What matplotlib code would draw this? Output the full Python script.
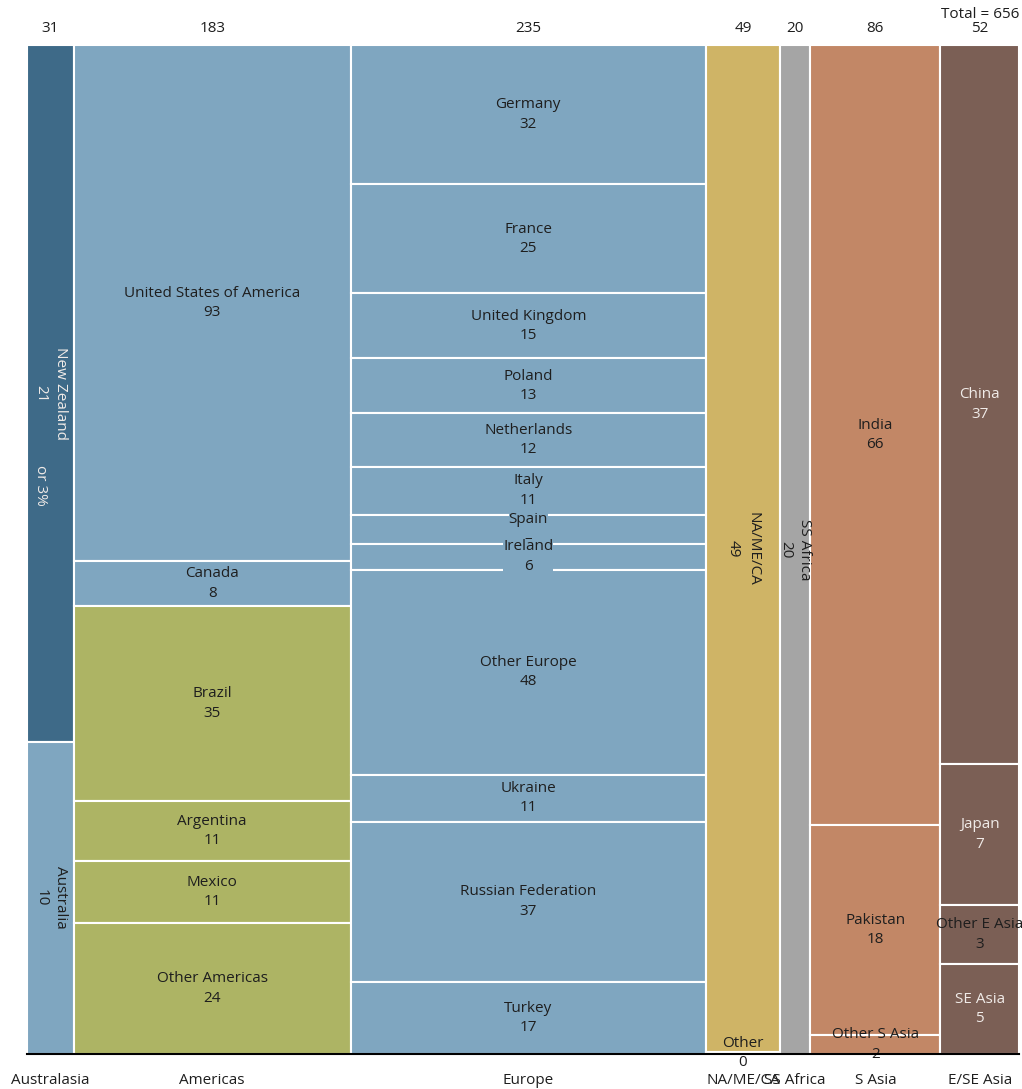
import numpy as np
import matplotlib
matplotlib.use("Agg")
import matplotlib.pyplot as plt

plt.rcParams['font.family'] = ['Open Sans', 'DejaVu Sans']

# Region totals (column widths)
regions = ["Australasia", "Americas", "Europe", "NA/ME/CA", "SS Africa", "S Asia", "E/SE Asia"]
region_totals = [31, 183, 235, 49, 20, 86, 52]
grand_total = 656

# Sub-categories per region, top to bottom
aus_names = ["New Zealand", "Australia"]
aus_values = [21.4, 9.6]

amer_names = ["United States of America", "Canada", "Brazil", "Argentina", "Mexico", "Other Americas"]
amer_values = [93.4, 8.3, 35.2, 10.9, 11.2, 23.8]

eur_names = ["Germany", "France", "United Kingdom", "Poland", "Netherlands", "Italy", "Spain",
             "Ireland", "Other Europe", "Ukraine", "Russian Federation", "Turkey"]
eur_values = [32.4, 25.4, 15.1, 12.8, 12.4, 11.2, 6.75, 6.06, 47.7, 10.9, 37.3, 16.8]

name_names = ["NA/ME/CA", "Other"]
name_values = [48.9, 0.1]

ssa_names = ["SS Africa"]
ssa_values = [20]

sa_names = ["India", "Pakistan", "Other S Asia"]
sa_values = [66.4, 17.9, 1.6]

ea_names = ["China", "Japan", "Other E Asia", "SE Asia"]
ea_values = [37.06, 7.27, 3.04, 4.64]

# colours
dark_blue = "#3e6a88"
light_blue = "#7fa6c0"
olive = "#adb464"
sand = "#cfb466"
grey = "#a5a5a5"
terracotta = "#c28766"
brown = "#7b5f55"
txt_dark = "#1e1e1e"
txt_light = "#f0ebe8"

columns = [
    (aus_names, aus_values, [dark_blue, light_blue], [txt_light, txt_dark], 270),
    (amer_names, amer_values, [light_blue, light_blue, olive, olive, olive, olive], [txt_dark] * 6, 0),
    (eur_names, eur_values, [light_blue] * 12, [txt_dark] * 12, 0),
    (name_names, name_values, [sand, sand], [txt_dark, txt_dark], None),
    (ssa_names, ssa_values, [grey], [txt_dark], 270),
    (sa_names, sa_values, [terracotta] * 3, [txt_dark] * 3, 0),
    (ea_names, ea_values, [brown] * 4, [txt_light, txt_light, txt_dark, txt_light], 0),
]

# labels shown differently from the value
label_override = {"Spain": "\u2013"}
boxed = ["Spain", "Ireland"]

fig = plt.figure(figsize=(10.22, 10.89), dpi=100)
ax = fig.add_axes([27 / 1022, 35 / 1089, 992 / 1022, 1009 / 1089])

fs = 11
ls = 1.4
lefts = np.concatenate([[0], np.cumsum(region_totals)[:-1]])

for left, width, (names, values, colors, tcolors, rot) in zip(lefts, region_totals, columns):
    vals = np.array(values, dtype=float)
    fracs = vals / vals.sum()
    tops = 1 - np.concatenate([[0], np.cumsum(fracs)[:-1]])
    for i, (name, f, top) in enumerate(zip(names, fracs, tops)):
        ax.bar(left, f, width=width, bottom=top - f, align="edge",
               color=colors[i], edgecolor="white", linewidth=1.5)
        lab = label_override.get(name, str(int(round(values[i]))))
        r = rot
        if rot is None:
            r = 270 if i == 0 else 0
        txt = f"{name}\n{lab}"
        xc, yc = left + width / 2, top - f / 2
        if name in boxed:
            # background patch that breaks the separator lines (text itself hidden)
            ax.text(xc, yc, txt, ha="center", va="center", color=colors[i], fontsize=fs,
                    linespacing=ls, zorder=2.5,
                    bbox=dict(facecolor=colors[i], edgecolor="none", pad=0))
        ax.text(xc, yc, txt, ha="center", va="center", rotation=r,
                color=tcolors[i], fontsize=fs, linespacing=ls, zorder=3)

# share note for New Zealand
nz_share = round(100 * 21 / grand_total)
ax.annotate(f"or {nz_share}%", xy=(lefts[0] + region_totals[0] / 2, 0.564),
            xytext=(-10, 0), textcoords="offset pixels", ha="center", va="center",
            rotation=270, color=txt_light, fontsize=fs)

# column totals on top
centers = lefts + np.array(region_totals) / 2
for c, t in zip(centers, region_totals):
    ax.text(c, 1.016, str(t), ha="center", va="center", fontsize=fs, color=txt_dark)
ax.text(grand_total, 1.030, f"Total = {grand_total}", ha="right", va="center",
        fontsize=fs, color=txt_dark)

ax.set_xlim(0, grand_total)
ax.set_ylim(0, 1)
ax.set_xticks(centers, regions, fontsize=fs, color=txt_dark)
ax.tick_params(axis="x", length=0, pad=14)
ax.set_yticks([])
for s in ["top", "left", "right"]:
    ax.spines[s].set_visible(False)
ax.spines["bottom"].set_color("black")
ax.spines["bottom"].set_linewidth(1.5)
ax.spines["bottom"].set_zorder(3)

fig.savefig("out.png", dpi=100)
